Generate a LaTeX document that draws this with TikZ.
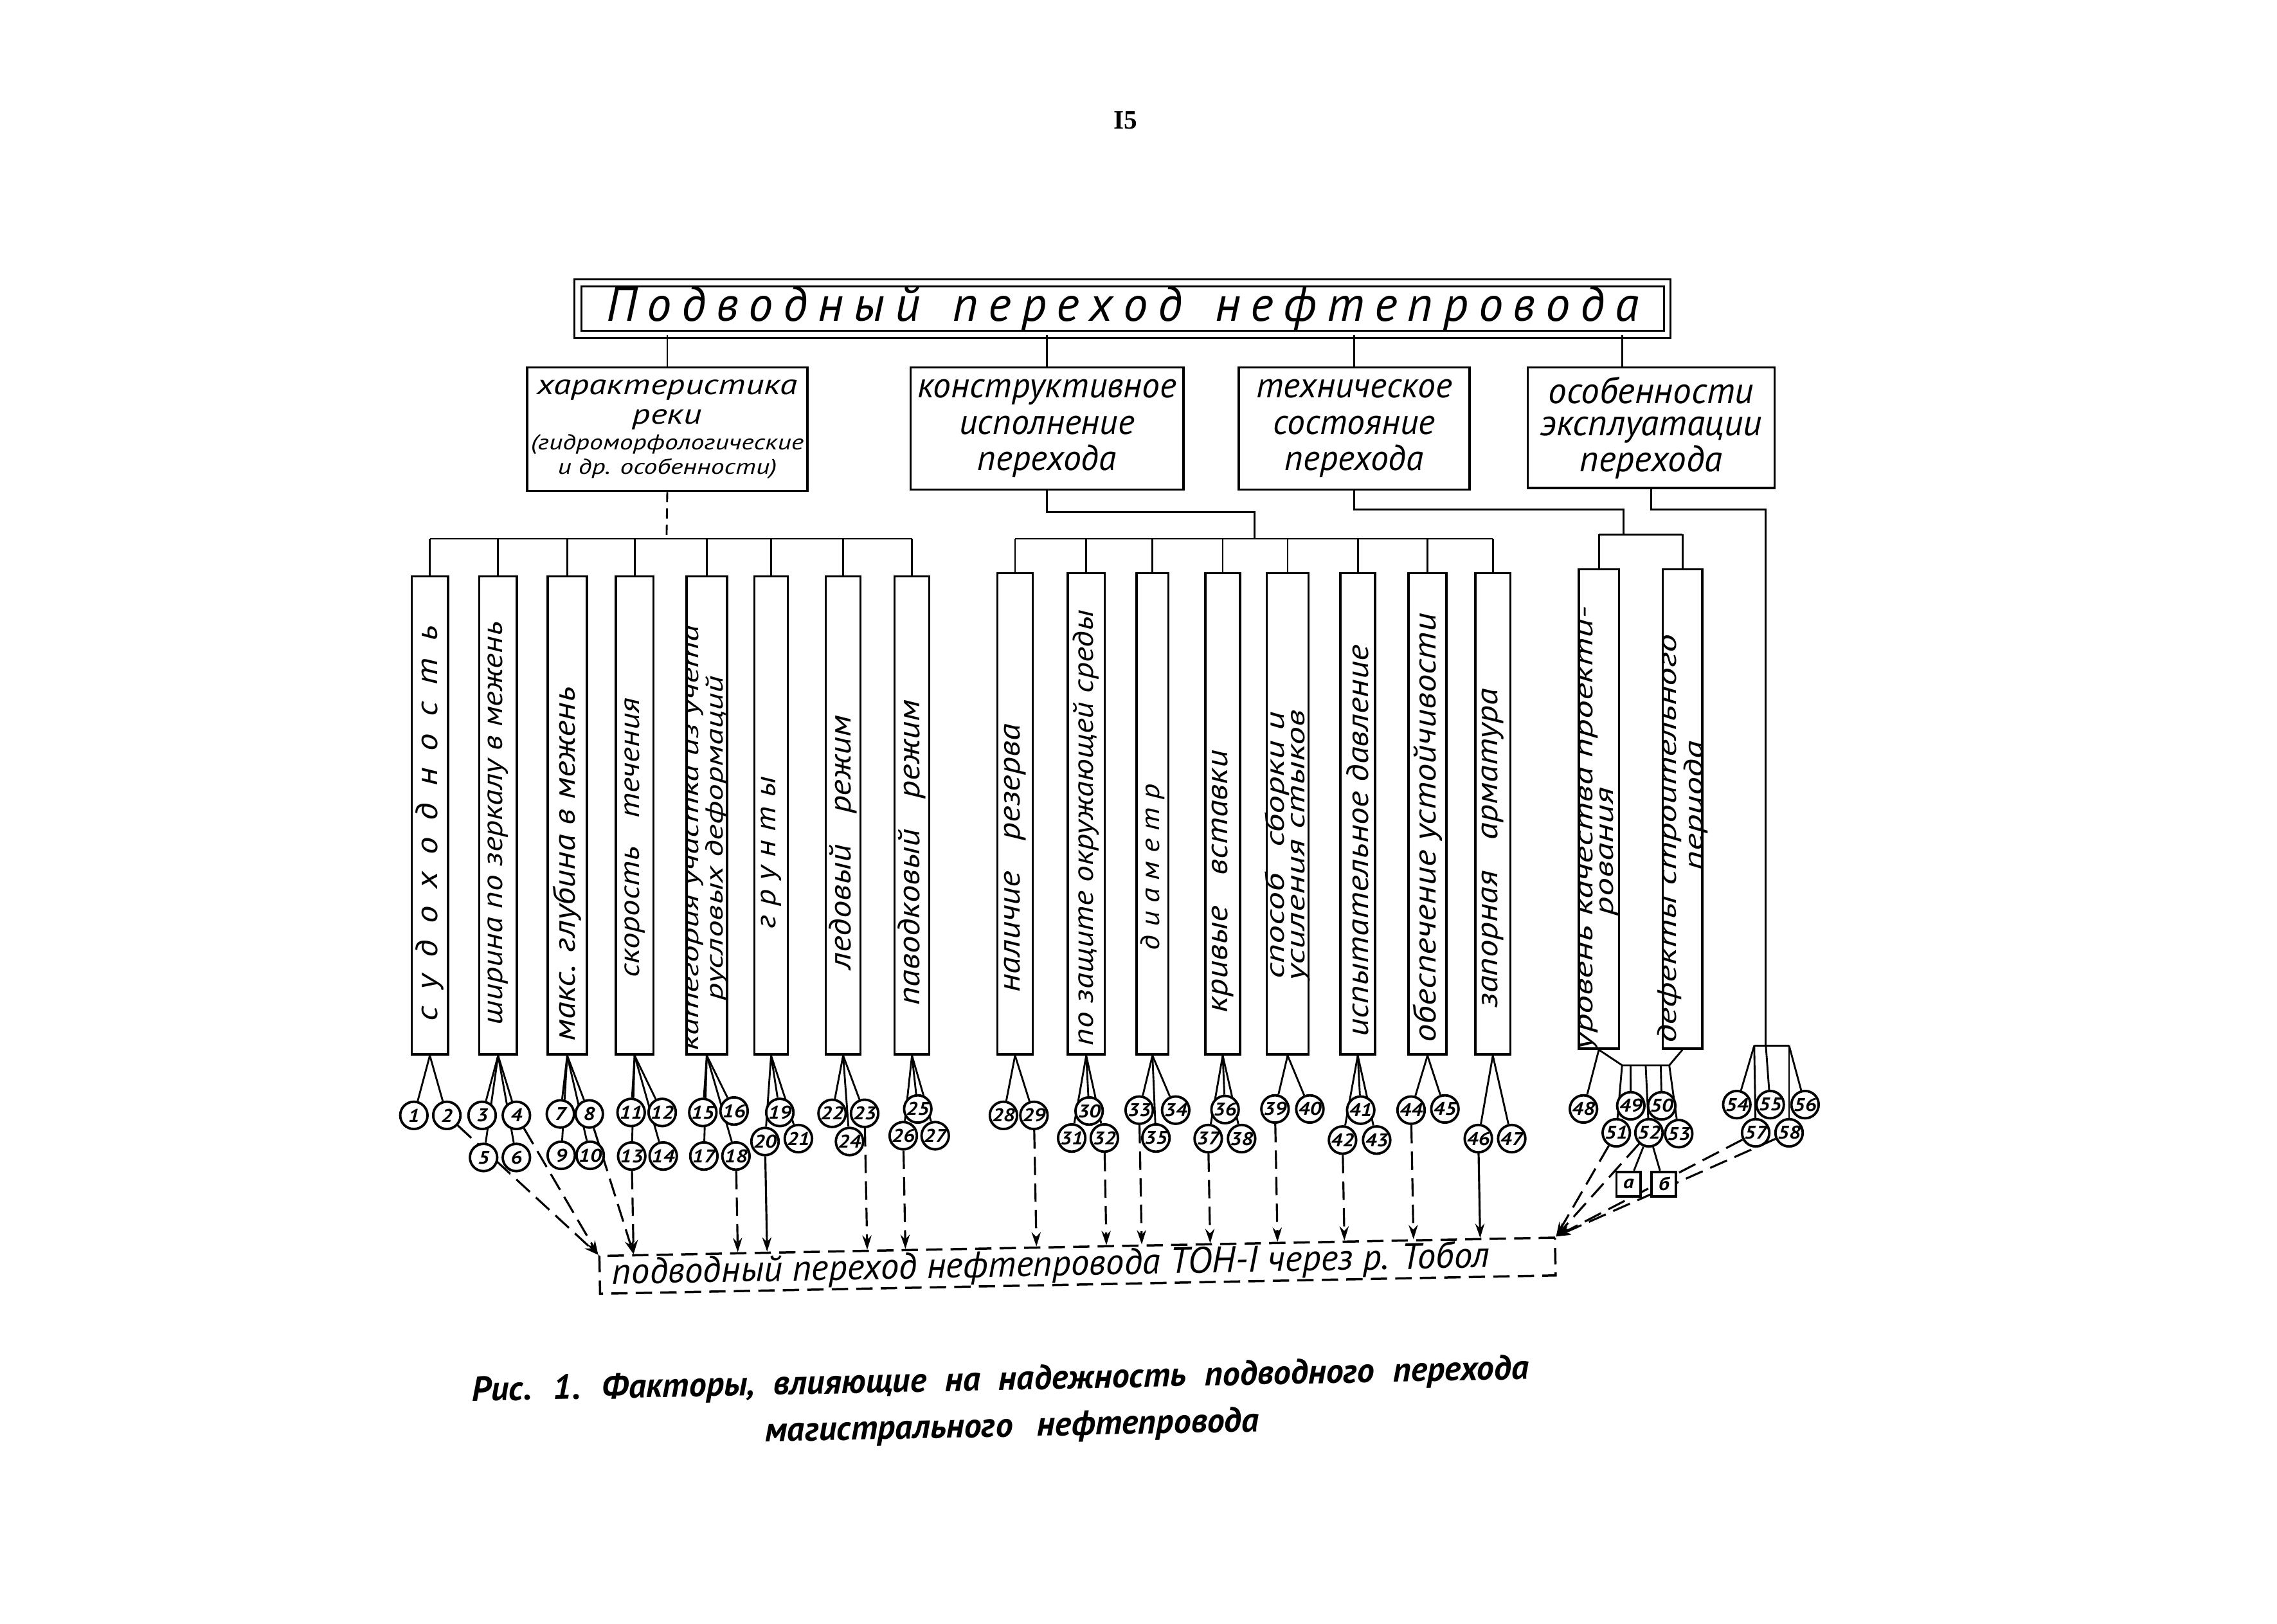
\documentclass[tikz,border=0pt]{standalone}
\usepackage{fontspec}
\setmainfont{PT Sans}[FakeStretch=1.15]
\newfontfamily\plain{PT Sans}
\newfontfamily\wide{PT Sans}[FakeStretch=1.25]
\newfontfamily\wider{PT Sans}[FakeStretch=1.4]
\newfontfamily\pagefont{Liberation Serif}
\usetikzlibrary{positioning,calc,arrows.meta,backgrounds}

\newcommand{\lsp}{\hspace{0.55em}}
\newcommand{\wgap}{\hspace{1em}}

\tikzset{
  headline/.style={draw, double, double distance=2.4pt, line width=1pt, inner sep=0pt,
    minimum width=18.75cm, minimum height=0.88cm, font=\plain\itshape\fontsize{24}{24}\selectfont},
  headbox/.style={draw, line width=1.1pt, inner sep=0pt, align=center},
  colbox/.style={draw, line width=1.1pt, inner sep=0pt},
  coltext/.style={rotate=90, inner sep=0pt, align=center},
  num/.style={circle, draw, fill=white, line width=1.2pt, minimum size=0.47cm, inner sep=0pt,
    font=\bfseries\itshape\fontsize{9}{9}\selectfont},
  letterbox/.style={draw, fill=white, line width=1.2pt, minimum size=0.42cm, inner sep=0pt,
    font=\bfseries\itshape\fontsize{9}{9}\selectfont},
  link/.style={line width=0.9pt},
  feed/.style={line width=1pt, dash pattern=on 9pt off 4pt, -{Stealth[length=7pt,width=4.5pt]}},
  sitebox/.style={draw, line width=1.1pt, dash pattern=on 8pt off 4pt, inner sep=0pt,
    font=\plain\itshape\fontsize{18}{18}\selectfont},
  capt/.style={inner sep=0pt, font=\plain\bfseries\itshape\fontsize{17}{17}\selectfont},
}

\begin{document}
\begin{tikzpicture}[x=0.025cm, y=-0.025cm]
\useasboundingbox (0,0) rectangle (1568,1118);

% номер страницы
\node[font=\pagefont\bfseries\fontsize{13}{13}\selectfont] (page) at (775,83) {I5};

% общий блок
\node[headline] (top) at (773,212.5)
  {{\spaceskip=5pt\relax П о д в о д н ы й\hspace{11pt} п е р е х о д\hspace{11pt} н е ф т е п р о в о д а}};

% четыре группы факторов
\node[headbox, minimum width=4.825cm, minimum height=2.125cm, font=\wide\itshape\fontsize{14}{12}\selectfont] (river) at (459.5,295.5)
  {характеристика\\[2.5pt]реки\\[0.5pt]\fontsize{10.5}{11}\selectfont(гидроморфологические\\\fontsize{10.5}{11}\selectfont и др. особенности)};
\node[headbox, minimum width=4.7cm, minimum height=2.1cm, font=\plain\itshape\fontsize{17.5}{17.7}\selectfont] (design) at (721,295)
  {конструктивное\\исполнение\\перехода};
\node[headbox, minimum width=3.975cm, minimum height=2.1cm, font=\plain\itshape\fontsize{17.5}{17.7}\selectfont] (state) at (932.5,295)
  {техническое\\состояние\\перехода};
\node[headbox, minimum width=4.25cm, minimum height=2.075cm, font=\plain\itshape\fontsize{18}{16}\selectfont] (ops) at (1137,294.5)
  {особенности\\эксплуатации\\перехода};

\foreach \h in {river,design,state}
  \draw[link] (\h.north) -- (\h.north |- top.south);
\coordinate (opsin) at ($(ops.north)+(-20,0)$);
\draw[link] (opsin) -- (opsin |- top.south);

% столбцы: характеристика реки
\foreach \n/\x/\w/\yc/\ff/\f/\t in {
  a1/296/0.625/567/\rmfamily/15/{с\lsp у\lsp д\lsp о\lsp х\lsp о\lsp д\lsp н\lsp о\lsp с\lsp т\lsp ь},
  a2/343/0.65/567/\rmfamily/14/{ширина по зеркалу в межень},
  a3/390.6/0.675/595/\rmfamily/15/{макс. глубина в межень},
  a4/437/0.65/577/\rmfamily/14/{скорость\wgap течения},
  a5/486.7/0.7/577/\wider/12/{категория участка из учета\\русловых деформаций},
  a6/531/0.575/587/\rmfamily/14/{г р у н т ы},
  a7/580.6/0.6/580/\rmfamily/15/{ледовый\wgap режим},
  a8/628/0.6/587/\rmfamily/15/{паводковый\wgap режим}}
{
  \node[colbox, minimum width=\w*1cm, minimum height=8.225cm] (\n) at (\x,561.5) {};
  \node[coltext, font=\ff\itshape\fontsize{\f}{10}\selectfont] (t\n) at (\x,\yc) {\t};
}

% столбцы: конструктивное исполнение и техническое состояние
\foreach \n/\x/\w/\yc/\ff/\f/\t in {
  b1/699/0.61/591/\rmfamily/15/{наличие\wgap резерва},
  b2/748/0.64/570/\rmfamily/14/{по защите окружающей среды},
  b3/793.6/0.55/597/\rmfamily/13/{д и а м е т р},
  b4/842/0.6/607/\rmfamily/15/{кривые\wgap вставки},
  b5/886.7/0.72/582/\wider/13/{способ\wgap сборки и\\усиления стыков},
  b6/935/0.6/579/\rmfamily/15/{испытательное давление},
  b7/983/0.65/570/\rmfamily/15.5/{обеспечение устойчивости},
  b8/1028/0.6/584/\rmfamily/15/{запорная\wgap арматура}}
{
  \node[colbox, minimum width=\w*1cm, minimum height=8.285cm] (\n) at (\x,560.3) {};
  \node[coltext, font=\ff\itshape\fontsize{\f}{10}\selectfont] (t\n) at (\x,\yc) {\t};
}

% столбцы: особенности эксплуатации
\node[colbox, minimum width=0.69cm, minimum height=8.25cm] (e1) at (1101,557) {};
\node[coltext, align=left, font=\wider\itshape\fontsize{13}{10}\selectfont] (te1) at (1101,570)
  {уровень качества проекти-\\\phantom{уровень }рования};
\node[colbox, minimum width=0.68cm, minimum height=8.25cm] (e2) at (1158.6,557) {};
\node[coltext, align=left, font=\wider\itshape\fontsize{13}{10}\selectfont] (te2) at (1158.6,577.5)
  {дефекты строительного\\\phantom{дефекты с}периода};

% шины
\coordinate (ba) at (459,371);
\draw[link, dash pattern=on 5pt off 3pt] (river.south) -- (ba);
\draw[link] (a1.north |- ba) -- (a8.north |- ba);
\foreach \k in {1,...,8}
  \draw[link] (a\k.north) -- (a\k.north |- ba);

\coordinate (bb) at (864,371);
\draw[link] (design.south) -- ++(0,15) -| (bb);
\draw[link] (b1.north |- bb) -- (b8.north |- bb);
\foreach \k in {1,...,8}
  \draw[link] (b\k.north) -- (b\k.north |- bb);

\coordinate (bc) at (1118,368);
\draw[link] (state.south) -- ++(0,13) -| (bc);
\draw[link] (e1.north |- bc) -- (e2.north |- bc);
\foreach \k in {1,2}
  \draw[link] (e\k.north) -- (e\k.north |- bc);

\coordinate (dtop) at (1216,720);
\coordinate (dl) at (1208,720);
\coordinate (dr) at (1232,720);
\draw[link] (ops.south) -- ++(0,14) -| (dtop);
\draw[link] (dl) -- (dr);

\coordinate (tl) at (1117,733.5);
\coordinate (tr) at (1149.5,733.5);
\draw[link] (e1.south) -- (tl) -- (tr) -- (e2.south);

% кружки с номерами
\foreach \k/\x/\y in {
  1/285/768, 2/307.7/768, 3/332/768, 4/355.6/768, 5/333/797, 6/355.6/797,
  7/385.9/767, 8/405.8/767, 9/386.5/795.5, 10/406.4/795.5,
  11/434.6/766, 12/456/766, 13/435/796, 14/456.7/796,
  15/484/766, 16/505.5/765, 17/484.7/796, 18/506.8/796,
  19/537/766, 20/526.8/786, 21/549.8/784,
  22/573/766.6, 23/595.4/766.6, 24/585/786,
  25/632/763.6, 26/622/782, 27/644/782,
  28/691/768, 29/712/768,
  30/750/765, 31/738/783.6, 32/760.5/783.6,
  33/784.5/764.4, 34/809.6/764.4, 35/796/783.6,
  36/843.6/764, 37/832/784, 38/855/784,
  39/878/763.6, 40/902/763.6,
  41/937/764.4, 42/924.5/785, 43/948/785,
  44/971.7/764.4, 45/995/763.6,
  46/1018/784, 47/1041/784,
  48/1090.4/763.6, 49/1123/761.4, 50/1144.3/761.4,
  51/1113/780, 52/1135.5/780, 53/1156/780.6,
  54/1196/760.6, 55/1219/760.6, 56/1243/760.6, 57/1209/780, 58/1232/780}
  \node[num] (n\k) at (\x,\y) {\k};

\node[letterbox] (sqa) at (1121.5,815.3) {а};
\node[letterbox] (sqb) at (1145.8,815.3) {б};

% объект
\node[sitebox, rotate=1.1, minimum width=16.45cm, minimum height=0.65cm] (site) at (742,871.5)
  {подводный переход нефтепровода ТОН-I через р. Тобол\hspace*{26pt}};

% подпись
\node[capt, rotate=1.2] (cap1) at (689,951)
  {{\spaceskip=9pt\relax Рис. 1. Факторы, влияющие на надежность подводного перехода}};
\node[capt, rotate=1.2] (cap2) at (697,983)
  {{\spaceskip=12pt\relax магистрального нефтепровода}};

\begin{scope}[on background layer]
  % веера от столбцов к кружкам
  \foreach \c/\l in {a1/{1,2}, a2/{3,4,5,6}, a3/{7,8,9,10}, a4/{11,12,13,14},
      a5/{15,16,17,18}, a6/{19,20,21}, a7/{22,23,24}, a8/{25,26,27},
      b1/{28,29}, b2/{30,31,32}, b3/{33,34,35}, b4/{36,37,38},
      b5/{39,40}, b6/{41,42,43}, b7/{44,45}, b8/{46,47}, e1/{48}}
    \foreach \k in \l
      \draw[link] (\c.south) -- (n\k);
  \draw[link] (tl) -- (n51);
  \draw[link] ($(tl)!.18!(tr)$) -- (n49);
  \draw[link] ($(tl)!.5!(tr)$) -- (n52);
  \draw[link] ($(tl)!.82!(tr)$) -- (n50);
  \draw[link] (tr) -- (n53);
  \draw[link] (n52) -- (sqa);
  \draw[link] (n52) -- (sqb);
  \draw[link] (dl) -- (n54);
  \draw[link] (dl) -- (n57);
  \draw[link] (dtop) -- (n55);
  \draw[link] (dr) -- (n56);
  \draw[link] (dr) -- (n58);

  % связи с объектом
  \draw[feed] (n2) -- (site.north west);
  \draw[feed] (n4) -- (site.north west);
  \draw[feed] (n8) -- ($(site.north west)!(n13)!(site.north east)$);
  \foreach \k in {13,18,23,26,29,32,33,37,39,42,44}
    \draw[feed] (n\k) -- ($(site.north west)!(n\k)!(site.north east)$);
  \foreach \k in {20,46}
    \draw[feed, solid] (n\k) -- ($(site.north west)!(n\k)!(site.north east)$);
  \foreach \k in {51,52,57,58}
    \draw[feed] (n\k) -- (site.north east);
\end{scope}
\end{tikzpicture}
\end{document}
